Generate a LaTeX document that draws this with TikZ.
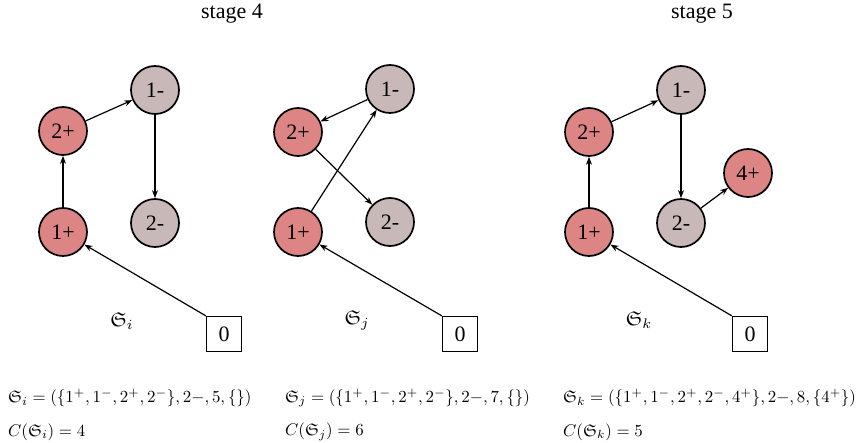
\documentclass[tikz,border=0pt]{standalone}
\usepackage{graphicx}
\usepackage{amssymb}
\usepackage{fontspec}
\setmainfont{Liberation Serif}
\usetikzlibrary{arrows.meta}
\definecolor{redfill}{RGB}{221,133,133}
\definecolor{grayfill}{RGB}{200,184,184}
\newcommand{\frmscale}[1]{\scalebox{1.69}{\fontsize{10}{12}\selectfont #1}}
\newcommand{\lblscale}[1]{\scalebox{2.0}{\fontsize{10}{12}\selectfont #1}}
\begin{document}
\begin{tikzpicture}[x=1pt,y=-1pt,
  vtx/.style={circle,draw,line width=1.7pt,minimum size=48pt,inner sep=0pt,font=\fontsize{22}{24}\selectfont},
  plusnode/.style={vtx,fill=redfill},
  minusnode/.style={vtx,fill=grayfill},
  zbox/.style={draw,line width=1.2pt,minimum width=35pt,minimum height=35pt,inner sep=0pt,font=\fontsize{22}{24}\selectfont},
  conn/.style={line width=1.2pt,-{Stealth[length=8pt,width=6pt]}},
  ttl/.style={font=\fontsize{22}{24}\selectfont},
  lbl/.style={inner sep=0pt},
  frm/.style={anchor=west,inner sep=0pt}]
\useasboundingbox (0,0) rectangle (856,443);
% titles
\node[ttl] (t4) at (232,14) {stage 4};
\node[ttl] (t5) at (702,14) {stage 5};
% panel 1
\node[minusnode] (a1m) at (155,90) {1-};
\node[plusnode] (a2p) at (63,131) {2+};
\node[plusnode] (a1p) at (63,232) {1+};
\node[minusnode] (a2m) at (155,223) {2-};
\node[zbox] (a0) at (224,334) {0};
\node[lbl] (as) at (122,321) {\lblscale{$\mathfrak{S}_i$}};
\draw[conn] (a1p) -- (a2p);
\draw[conn] (a2p) -- (a1m);
\draw[conn] (a1m) -- (a2m);
\draw[conn] (a0.north west) -- (a1p);
% panel 2
\node[minusnode] (b1m) at (390,89) {1-};
\node[plusnode] (b2p) at (298,132) {2+};
\node[plusnode] (b1p) at (298,232) {1+};
\node[minusnode] (b2m) at (390,222) {2-};
\node[zbox] (b0) at (460,334) {0};
\node[lbl] (bs) at (357,320) {\lblscale{$\mathfrak{S}_j$}};
\draw[conn] (b1m) -- (b2p);
\draw[conn] (b1p) -- (b1m);
\draw[conn] (b2p) -- (b2m);
\draw[conn] (b0.north west) -- (b1p);
% panel 3
\node[minusnode] (c1m) at (681,90) {1-};
\node[plusnode] (c2p) at (589,132) {2+};
\node[plusnode] (c1p) at (589,232) {1+};
\node[minusnode] (c2m) at (681,223) {2-};
\node[plusnode] (c4p) at (748,173) {4+};
\node[zbox] (c0) at (750,334) {0};
\node[lbl] (cs) at (639,320) {\lblscale{$\mathfrak{S}_k$}};
\draw[conn] (c1p) -- (c2p);
\draw[conn] (c2p) -- (c1m);
\draw[conn] (c1m) -- (c2m);
\draw[conn] (c2m) -- (c4p);
\draw[conn] (c0.north west) -- (c1p);
% formulas
\node[frm] (fa1) at (8,398) {\frmscale{$\mathfrak{S}_i=(\{1^+,1^-,2^+,2^-\},2{-},5,\{\})$}};
\node[frm] (fa2) at (8,432) {\frmscale{$C(\mathfrak{S}_i)=4$}};
\node[frm] (fb1) at (285,398) {\frmscale{$\mathfrak{S}_j=(\{1^+,1^-,2^+,2^-\},2{-},7,\{\})$}};
\node[frm] (fb2) at (285,432) {\frmscale{$C(\mathfrak{S}_j)=6$}};
\node[frm] (fc1) at (563,398) {\frmscale{$\mathfrak{S}_k=(\{1^+,1^-,2^+,2^-,4^+\},2{-},8,\{4^+\})$}};
\node[frm] (fc2) at (563,432) {\frmscale{$C(\mathfrak{S}_k)=5$}};
\end{tikzpicture}
\end{document}
